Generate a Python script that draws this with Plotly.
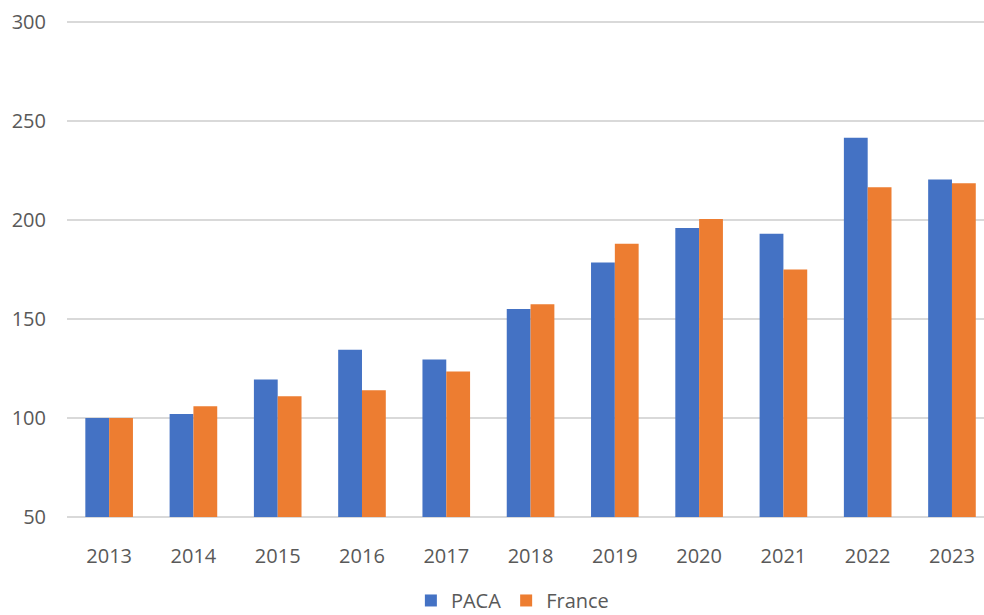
import plotly.graph_objects as go

years = ["2013", "2014", "2015", "2016", "2017", "2018", "2019", "2020", "2021", "2022", "2023"]
paca = [100, 102, 119.5, 134.5, 129.5, 155, 178.5, 196, 193, 241.5, 220.5]
france = [100, 106, 111, 114, 123.5, 157.5, 188, 200.5, 175, 216.5, 218.5]
y_ticks = [50, 100, 150, 200, 250, 300]
axis_min = 50

font_family = "Open Sans, Noto Sans, sans-serif"
text_color = "#595959"

fig = go.Figure()
fig.add_trace(go.Bar(name="PACA", x=years, y=[v - axis_min for v in paca], base=axis_min,
                     customdata=paca, hovertemplate="%{x}: %{customdata}<extra>PACA</extra>",
                     marker=dict(color="#4472C4", line=dict(width=0))))
fig.add_trace(go.Bar(name="France", x=years, y=[v - axis_min for v in france], base=axis_min,
                     customdata=france, hovertemplate="%{x}: %{customdata}<extra>France</extra>",
                     marker=dict(color="#ED7D31", line=dict(width=0))))

fig.update_layout(
    width=984, height=615,
    paper_bgcolor="white", plot_bgcolor="white",
    margin=dict(l=67, r=0, t=18, b=94, autoexpand=False),
    barmode="group", bargap=0.435, bargroupgap=0,
    font=dict(family=font_family, size=20, color=text_color),
    legend=dict(orientation="h", x=0.375, xanchor="left", y=-0.158, yanchor="middle",
                font=dict(size=20, color=text_color), itemwidth=30, traceorder="normal",
                tracegroupgap=0),
    showlegend=True,
)
fig.update_xaxes(type="category", range=[-0.5, 10.38], showgrid=False, showline=False,
                 ticks="", ticklabelstandoff=21, automargin=False,
                 tickfont=dict(size=20, color=text_color))
fig.update_yaxes(range=[48, 302], tickvals=y_ticks, showgrid=True,
                 gridcolor="#D9D9D9", gridwidth=1.5, zeroline=False, showline=False, ticks="",
                 ticklabelstandoff=20, automargin=False,
                 tickfont=dict(size=20, color=text_color))

fig.write_html("out.html", config={"displayModeBar": False},
               post_script="document.body.style.margin='0';")
